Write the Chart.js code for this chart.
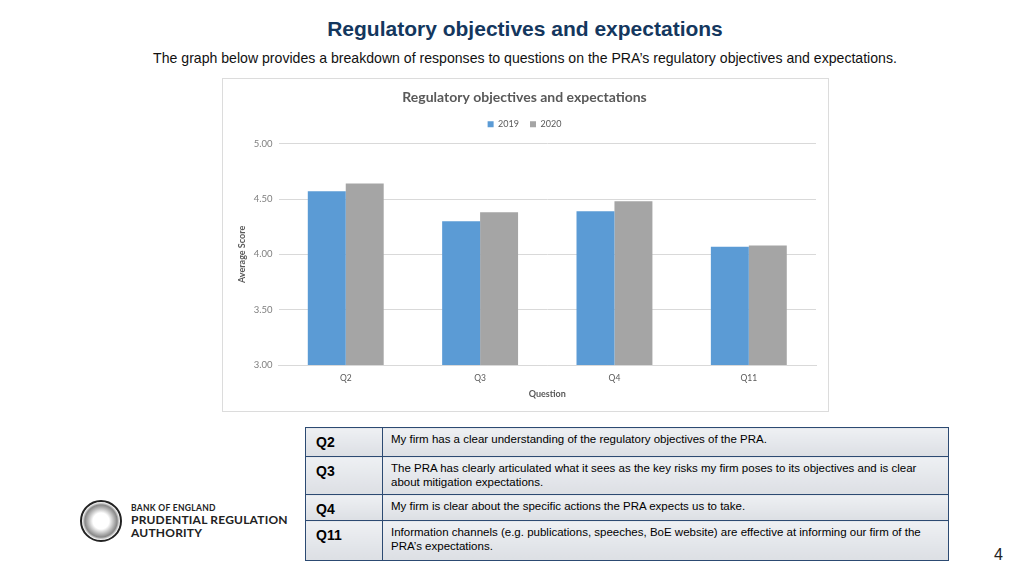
<!DOCTYPE html>
<html>
<head>
<meta charset="utf-8">
<script src="https://cdn.jsdelivr.net/npm/chart.js@4"></script>
<style>
  body { margin: 0; width: 1024px; height: 576px; background: #fff; font-family: Arial, "Liberation Sans", sans-serif; position: relative; overflow: hidden; }
  #head { position: absolute; top: 17px; left: 0; width: 1050px; text-align: center; font-size: 21px; font-weight: bold; color: #14375e; }
  #sub { position: absolute; top: 50px; left: 0; width: 1050px; text-align: center; font-size: 14.1px; color: #111; }
  #box { position: absolute; left: 222px; top: 78px; width: 605px; height: 332px; border: 1px solid #dcdcdc; }
  #tbl { position: absolute; left: 305px; top: 427px; border-collapse: collapse; width: 644px; }
  #tbl td { border: 1px solid #2c4a72; background: linear-gradient(#eef0f3, #dcdfe4); vertical-align: top; }
  #tbl td.q { width: 66px; font-weight: bold; font-size: 14px; padding: 6px 0 0 10px; }
  #tbl td.d { font-size: 11.5px; padding: 4px 10px 0 8px; line-height: 14px; }
  #logo { position: absolute; left: 80px; top: 500px; width: 38px; height: 38px; border-radius: 50%; border: 2px solid #222; background: radial-gradient(circle, #fff 30%, #888 60%, #fff 70%); }
  #lt { position: absolute; left: 131px; top: 503px; color: #222; font-family: Lato, sans-serif; }
  #lt .a { font-size: 8.5px; font-weight: bold; letter-spacing: 0.3px; }
  #lt .b { font-size: 12px; font-weight: bold; line-height: 13px; letter-spacing: 0.2px; }
  #pg { position: absolute; left: 994px; top: 546px; font-size: 16px; color: #222; }
</style>
</head>
<body>
<div id="head">Regulatory objectives and expectations</div>
<div id="sub">The graph below provides a breakdown of responses to questions on the PRA’s regulatory objectives and expectations.</div>
<div id="box"><canvas id="chart" width="605" height="332"></canvas></div>

<table id="tbl">
  <tr style="height:29px"><td class="q">Q2</td><td class="d">My firm has a clear understanding of the regulatory objectives of the PRA.</td></tr>
  <tr style="height:38px"><td class="q">Q3</td><td class="d">The PRA has clearly articulated what it sees as the key risks my firm poses to its objectives and is clear about mitigation expectations.</td></tr>
  <tr style="height:26px"><td class="q">Q4</td><td class="d">My firm is clear about the specific actions the PRA expects us to take.</td></tr>
  <tr style="height:40px"><td class="q">Q11</td><td class="d">Information channels (e.g. publications, speeches, BoE website) are effective at informing our firm of the PRA’s expectations.</td></tr>
</table>

<div id="logo"></div>
<div id="lt"><div class="a">BANK OF ENGLAND</div><div class="b">PRUDENTIAL REGULATION</div><div class="b">AUTHORITY</div></div>
<div id="pg">4</div>

<script>
const questions = ['Q2', 'Q3', 'Q4', 'Q11'];
const scores2019 = [4.57, 4.30, 4.39, 4.07];
const scores2020 = [4.64, 4.38, 4.48, 4.08];
const yTicks = [3.00, 3.50, 4.00, 4.50, 5.00];

const grey = '#595959';

// a bit more room under the legend
const legendGap = {
  id: 'legendGap',
  beforeInit(chart) {
    const fit = chart.legend.fit;
    chart.legend.fit = function () {
      fit.bind(chart.legend)();
      this.height += 5;
    };
  }
};

const ctx = document.getElementById('chart').getContext('2d');
new Chart(ctx, {
  type: 'bar',
  data: {
    labels: questions,
    datasets: [
      { label: '2019', data: scores2019, backgroundColor: '#5b9bd5' },
      { label: '2020', data: scores2020, backgroundColor: '#a5a5a5' }
    ]
  },
  options: {
    responsive: false,
    animation: false,
    layout: { padding: { left: 10, right: 12, top: 6, bottom: 8 } },
    datasets: { bar: { categoryPercentage: 0.565, barPercentage: 1 } },
    scales: {
      x: {
        grid: { display: false, drawTicks: false },
        border: { color: '#d9d9d9' },
        ticks: { color: grey, font: { family: 'Lato', size: 8.5 }, padding: 8 },
        title: { display: true, text: 'Question', color: grey, font: { family: 'Lato', size: 9, weight: 'bold' }, padding: { top: -3 } }
      },
      y: {
        min: 3, max: 5,
        afterBuildTicks: axis => { axis.ticks = yTicks.map(v => ({ value: v })); },
        grid: { color: '#d9d9d9', drawTicks: false },
        border: { display: false },
        ticks: { color: '#7f7f7f', font: { family: 'Lato', size: 9.5 }, padding: 6, callback: v => Number(v).toFixed(2) },
        title: { display: true, text: 'Average Score', color: grey, font: { family: 'Lato', size: 9, weight: 'bold' }, padding: { bottom: 0 } }
      }
    },
    plugins: {
      title: { display: true, text: 'Regulatory objectives and expectations', color: grey, font: { family: 'Lato', size: 14, weight: 'bold' }, padding: { top: 4, bottom: 3 } },
      legend: { labels: { boxWidth: 6, boxHeight: 6, color: grey, font: { family: 'Lato', size: 9 }, padding: 11 } },
      tooltip: { enabled: false }
    }
  },
  plugins: [legendGap]
});
</script>
</body>
</html>
